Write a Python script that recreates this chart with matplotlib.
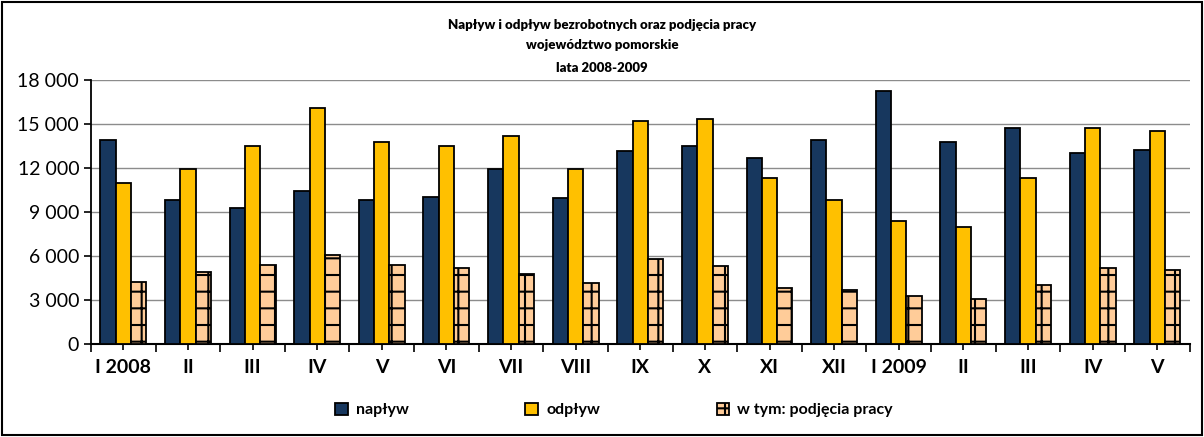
import numpy as np
import matplotlib
matplotlib.use("Agg")
import matplotlib.pyplot as plt
from matplotlib.patches import Rectangle
from matplotlib.ticker import FuncFormatter, MultipleLocator

miesiace = ['I 2008', 'II', 'III', 'IV', 'V', 'VI', 'VII', 'VIII', 'IX', 'X',
            'XI', 'XII', 'I 2009', 'II', 'III', 'IV', 'V']
naplyw = [13900, 9800, 9300, 10450, 9800, 10050, 11900, 9950, 13150, 13500,
          12650, 13900, 17250, 13800, 14700, 13050, 13250]
odplyw = [10950, 11950, 13500, 16100, 13800, 13500, 14200, 11950, 15200, 15350,
          11350, 9800, 8400, 8000, 11350, 14700, 14550]
podjecia = [4250, 4900, 5400, 6050, 5400, 5150, 4750, 4150, 5800, 5300,
            3850, 3650, 3250, 3100, 4000, 5150, 5050]

plt.rcParams['font.family'] = ['Lato', 'DejaVu Sans']
plt.rcParams['hatch.linewidth'] = 1.5

fig = plt.figure(figsize=(12.04, 4.37), dpi=100)
ax = fig.add_axes([0.0756, 0.2128, 0.9124, 0.6042])

x = np.arange(len(miesiace))
w = 0.237
ax.bar(x - w, naplyw, w, color='#17375E', edgecolor='black', linewidth=1.3,
       label='napływ', zorder=3)
ax.bar(x, odplyw, w, color='#FFC000', edgecolor='black', linewidth=1.3,
       label='odpływ', zorder=3)
ax.bar(x + w, podjecia, w, color='#FFCC99', edgecolor='black', linewidth=1.3,
       hatch='+', label='w tym: podjęcia pracy', zorder=3)

ax.set_xlim(-0.5, len(miesiace) - 0.5)
ax.set_ylim(0, 18000)
ax.yaxis.set_major_locator(MultipleLocator(3000))
ax.yaxis.set_major_formatter(FuncFormatter(lambda v, p: f'{int(v):,}'.replace(',', ' ')))
ax.grid(axis='y', color='#8c8c8c', linewidth=1, zorder=0)

ax.set_xticks(x)
ax.set_xticklabels(miesiace, fontsize=14, fontweight='bold')
ax.set_xticks(np.arange(-0.5, len(miesiace)), minor=True)
ax.tick_params(axis='x', which='major', length=4, width=1.2, pad=7)
ax.tick_params(axis='x', which='minor', length=6, width=1.2)
ax.tick_params(axis='y', labelsize=14, length=5, width=1.2)

for s in ['top', 'right']:
    ax.spines[s].set_visible(False)
ax.spines['left'].set_linewidth(1.3)
ax.spines['bottom'].set_linewidth(1.5)

fig.text(0.5, 0.942, 'Napływ i odpływ bezrobotnych oraz podjęcia pracy',
         ha='center', va='center', fontsize=9.5, fontweight='heavy')
fig.text(0.5, 0.896, 'województwo pomorskie',
         ha='center', va='center', fontsize=9.5, fontweight='heavy')
fig.text(0.5, 0.845, 'lata 2008-2009',
         ha='center', va='center', fontsize=9.5, fontweight='heavy')

leg = fig.legend(loc='center', bbox_to_anchor=(0.51, 0.062), ncol=3,
                 frameon=False, fontsize=11.5,
                 handlelength=0.8, handleheight=0.8, handletextpad=0.5,
                 columnspacing=7.3)
plt.setp(leg.get_texts(), fontweight='bold')

fig.patches.append(Rectangle((0.002, 0.004), 0.996, 0.992, transform=fig.transFigure,
                             fill=False, edgecolor='black', linewidth=1.5))

fig.savefig('out.png', dpi=100)
